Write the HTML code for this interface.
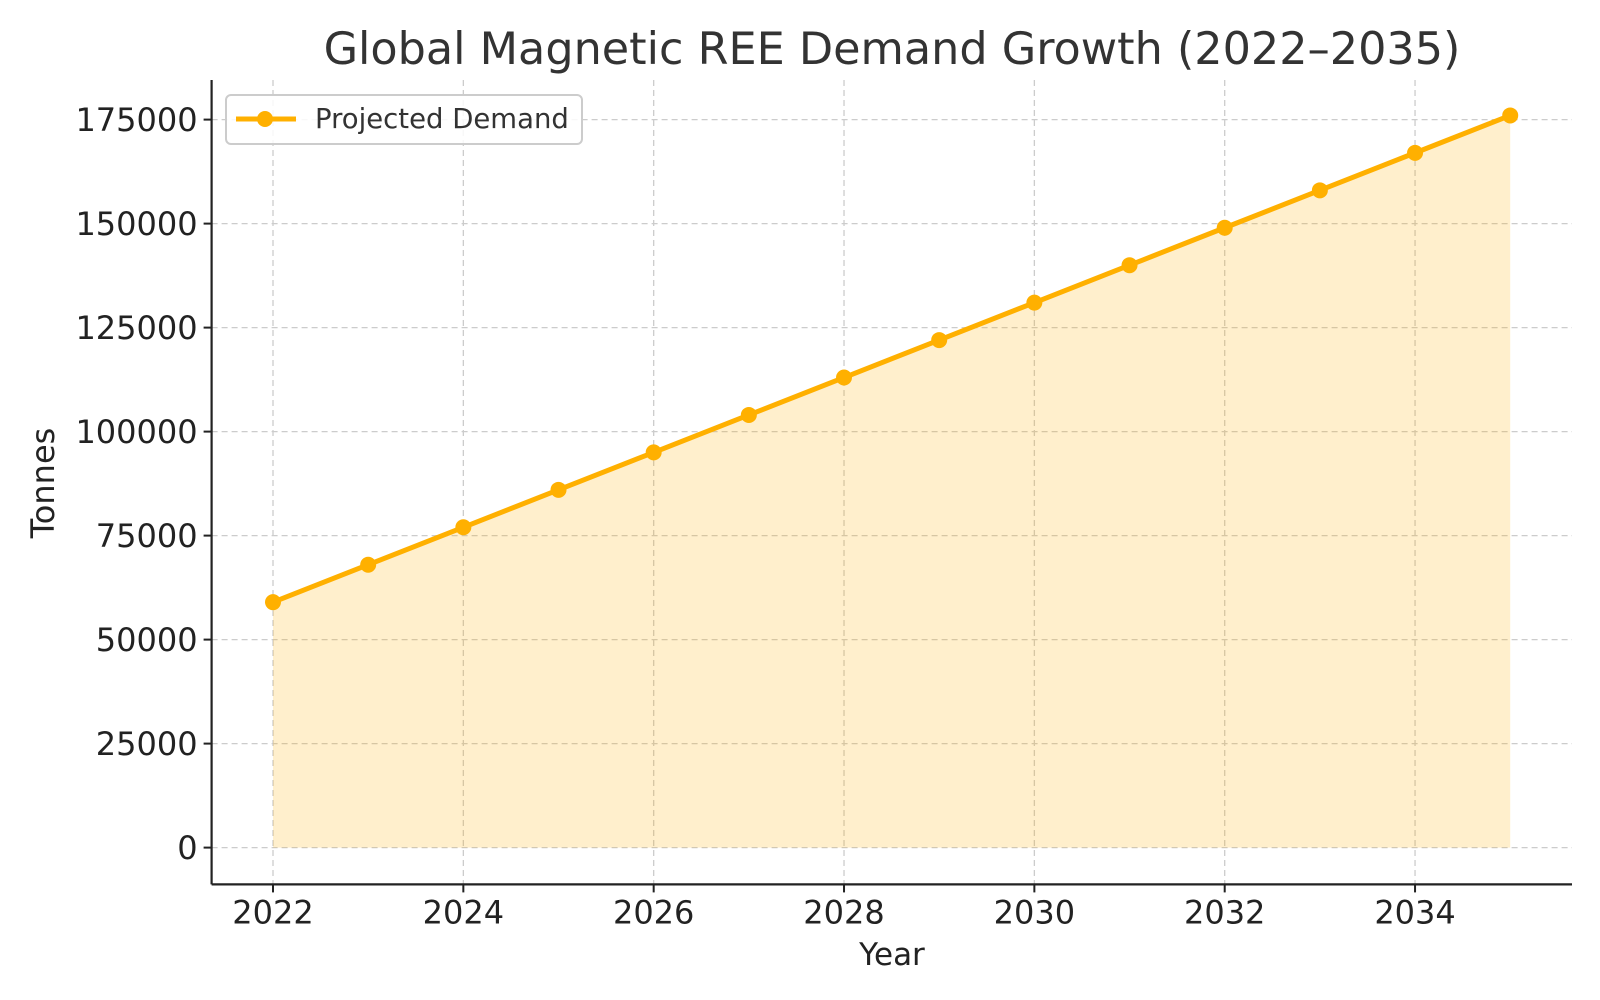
<!DOCTYPE html>
<html><head><meta charset="utf-8"><style>
html,body{margin:0;padding:0;background:#fff;}
svg{display:block;font-family:"DejaVu Sans","Liberation Sans",sans-serif;}
</style></head><body>
<svg id="chart" width="1600" height="1000" xmlns="http://www.w3.org/2000/svg">
<text x="892" y="64" text-anchor="middle" font-size="44.5" fill="#333">Global Magnetic REE Demand Growth (2022–2035)</text>
<g id="grid"></g>
<g id="plot"></g>
<g id="axes"></g>
<text x="892" y="965" text-anchor="middle" font-size="31" fill="#222">Year</text>
<text transform="translate(54,483) rotate(-90)" text-anchor="middle" font-size="32" fill="#222">Tonnes</text>
<g>
<rect x="226" y="95" width="356" height="49" rx="5" fill="#fff" fill-opacity="0.85" stroke="#ccc" stroke-width="2"/>
<line x1="236" y1="119" x2="296" y2="119" stroke="#FFB000" stroke-width="5"/>
<circle cx="265" cy="119" r="8" fill="#FFB000"/>
<text x="315" y="128" font-size="27.5" fill="#333">Projected Demand</text>
</g>
</svg>
<script>
const years=[2022,2023,2024,2025,2026,2027,2028,2029,2030,2031,2032,2033,2034,2035];
const demand=[59000,68000,77000,86000,95000,104000,113000,122000,131000,140000,149000,158000,167000,176000];
const xTicks=[2022,2024,2026,2028,2030,2032,2034];
const yTicks=[0,25000,50000,75000,100000,125000,150000,175000];
const NS="http://www.w3.org/2000/svg";
const L=211.6,R=1572,T=80,B=884.4;
const xs=v=>273+(v-2022)*95.17;
const ys=v=>847.6-v*(847.6-119.6)/175000;
function mk(tag,attrs,parent){const e=document.createElementNS(NS,tag);for(const k in attrs)e.setAttribute(k,attrs[k]);parent.appendChild(e);return e;}
const grid=document.getElementById('grid'),plot=document.getElementById('plot'),axes=document.getElementById('axes');
xTicks.forEach(t=>{
 const g=mk('line',{x1:xs(t),x2:xs(t),y1:T,y2:B,stroke:'#ccc','stroke-width':1.3,'stroke-dasharray':'6,4'},grid);
 
 
 const tk=mk('line',{x1:xs(t),x2:xs(t),y1:B,y2:B+8,stroke:'#222','stroke-width':2},axes);
 
 
 const lb=mk('text',{x:xs(t),y:B+39,'text-anchor':'middle','font-size':32,fill:'#222'},axes);
 lb.textContent=t;
 
 
});
yTicks.forEach(t=>{
 const g=mk('line',{x1:L,x2:R,y1:ys(t),y2:ys(t),stroke:'#ccc','stroke-width':1.3,'stroke-dasharray':'6,4'},grid);
 
 
 const tk=mk('line',{x1:L-8,x2:L,y1:ys(t),y2:ys(t),stroke:'#222','stroke-width':2},axes);
 
 
 const lb=mk('text',{x:L-14,y:ys(t)+11.5,'text-anchor':'end','font-size':32,fill:'#222'},axes);
 lb.textContent=t;
 
 
});
let d='M'+xs(years[0])+','+ys(0);
years.forEach((y,i)=>{d+=' L'+xs(y)+','+ys(demand[i]);});
d+=' L'+xs(years[years.length-1])+','+ys(0)+' Z';
const area=mk('path',{d:d,fill:'#FFB000','fill-opacity':0.2},plot);


const line=mk('polyline',{points:years.map((y,i)=>xs(y)+','+ys(demand[i])).join(' '),fill:'none',stroke:'#FFB000','stroke-width':5,'stroke-linejoin':'round'},plot);


years.forEach((y,i)=>{
 const c=mk('circle',{cx:xs(y),cy:ys(demand[i]),r:8,fill:'#FFB000'},plot);
 
 
});
const ya=mk('line',{x1:L,x2:L,y1:T,y2:B,stroke:'#222','stroke-width':2.2},axes);


const xa=mk('line',{x1:L,x2:R,y1:B,y2:B,stroke:'#222','stroke-width':2.2},axes);


</script>
</body></html>
